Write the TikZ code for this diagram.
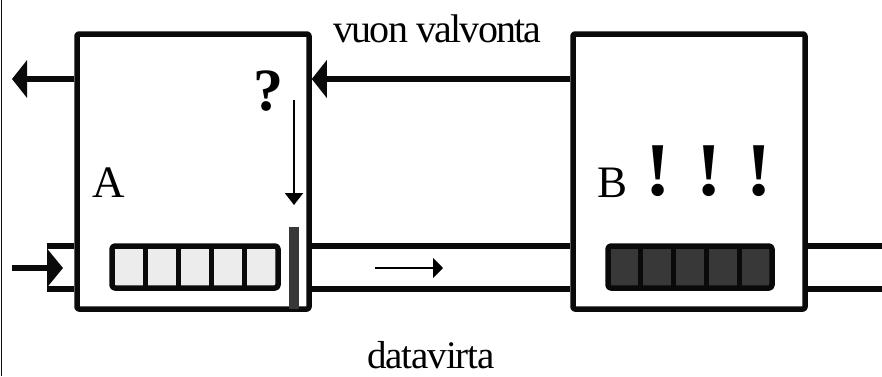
\documentclass[tikz,border=0pt]{standalone}
\usepackage{fontspec}
\setmainfont{Liberation Serif}
\usetikzlibrary{arrows.meta,calc}
\definecolor{cellfill}{HTML}{ECECEC}
\definecolor{darkfill}{HTML}{383838}
\definecolor{inkline}{HTML}{0A0A0A}

\begin{document}
\begin{tikzpicture}[x=1pt,y=-1pt,line join=round,
  hostbox/.style={draw=inkline,line width=5.5pt,rounded corners=2pt,
    minimum width=232pt,minimum height=275pt,inner sep=0pt},
  queuebox/.style={draw=inkline,line width=5.5pt,rounded corners=3pt,
    minimum width=166pt,minimum height=42pt,inner sep=0pt,outer sep=0pt},
  pipeline/.style={draw=inkline,line width=5.5pt},
  bigarrow/.style={draw=inkline,line width=5.5pt,-{Triangle[length=15pt,width=37pt]}},
  thinarrow/.style={draw=black,line width=2pt},
  lbl/.style={inner sep=0pt,anchor=base}]

  \useasboundingbox (0,0) rectangle (882,376);
  % frame line on the left edge
  \draw[line width=1.4pt,inkline] (1.5,0) -- (1.5,376);

  % hosts
  \node[hostbox] (boxA) at (193,171.5) {};
  \node[hostbox] (boxB) at (689,171.5) {};

  % buffers
  \node[queuebox,fill=cellfill] (queueA) at (195,267) {};
  \node[queuebox,fill=darkfill,minimum width=164pt] (queueB) at (690,267) {};
  \foreach \q in {queueA,queueB}
    \foreach \k in {1,2,3,4}
      \draw[inkline,line width=5pt]
        ($(\q.north west)!\k/5!(\q.north east)$) --
        ($(\q.south west)!\k/5!(\q.south east)$);

  % gate bar at the exit of A
  \node[fill=darkfill,minimum width=10pt,minimum height=82pt,inner sep=0pt] (gate) at (294,268) {};

  % data pipe
  \coordinate (pipeTopIn) at (47,246);
  \coordinate (pipeBotIn) at (47,289);
  \coordinate (pipeTopOut) at (884,246);
  \coordinate (pipeBotOut) at (884,289);
  \draw[pipeline] (pipeTopIn) -- (pipeTopIn -| boxA.west);
  \draw[pipeline] (pipeBotIn) -- (pipeBotIn -| boxA.west);
  \draw[pipeline] (pipeTopIn -| boxA.east) -- (pipeTopIn -| boxB.west);
  \draw[pipeline] (pipeBotIn -| boxA.east) -- (pipeBotIn -| boxB.west);
  \draw[pipeline] (pipeTopOut -| boxB.east) -- (pipeTopOut);
  \draw[pipeline] (pipeBotOut -| boxB.east) -- (pipeBotOut);

  % flow control signal
  \coordinate (fcLevel) at (0,79);
  \coordinate (fcOut) at (12,79);
  \draw[bigarrow] (boxB.west |- fcLevel) -- (boxA.east |- fcLevel);
  \draw[bigarrow] (boxA.west |- fcLevel) -- (fcOut);

  % incoming data
  \coordinate (inStart) at (12,268);
  \coordinate (inTip) at (63,268);
  \draw[draw=inkline,line width=5.5pt,-{Triangle[length=16pt,width=38pt]}] (inStart) -- (inTip);

  % data direction in the pipe
  \coordinate (dirStart) at (375,268);
  \coordinate (dirTip) at (443,268);
  \draw[thinarrow,-{Triangle[length=10pt,width=20pt]}] (dirStart) -- (dirTip);

  % decision arrow onto the gate
  \coordinate (askStart) at (294,100);
  \coordinate (askTip) at (294,205);
  \draw[thinarrow,-{Triangle[length=12pt,width=18pt]}] (askStart) -- (askTip);

  % labels
  \node[lbl,anchor=base west,font=\fontsize{45}{45}\selectfont] (labA) at (92,197) {A};
  \node[lbl,anchor=base west,font=\fontsize{45}{45}\selectfont] (labB) at (597,197) {B};
  \node[lbl,font=\bfseries\fontsize{60}{60}\selectfont] (ask) at (268,110) {?};
  \node[lbl,font=\bfseries\fontsize{76}{76}\selectfont] (bang) at (709,195) {! ! !};
  \node[lbl,font=\fontsize{40}{40}\selectfont\addfontfeatures{LetterSpace=-4.5}] (fcText) at (437.5,42) {vuon valvonta};
  \node[lbl,font=\fontsize{39}{39}\selectfont\addfontfeatures{LetterSpace=-3}] (dataText) at (431,368) {datavirta};
\end{tikzpicture}
\end{document}
